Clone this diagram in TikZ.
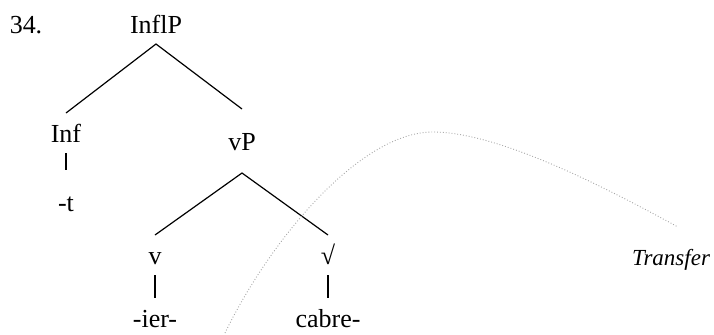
\documentclass[tikz,border=0pt]{standalone}
\usepackage{fontspec}
\setmainfont{Liberation Serif}
\begin{document}
\begin{tikzpicture}[x=0.5pt,y=-0.5pt,
  lab/.style={inner sep=0pt,outer sep=0pt,text height=9pt,text depth=0pt,
    minimum height=20pt,font=\fontsize{13}{15}\selectfont},
  tall/.style={lab,minimum height=32pt},
  branch/.style={line width=0.6pt,black},
  transfer/.style={densely dotted,gray!70,line width=0.45pt}]
\useasboundingbox (0,0) rectangle (714,334);
\node[lab] (num) at (26,24) {34.};
\node[lab] (infl) at (156,24) {InflP};
\node[lab] (inf) at (66,133) {Inf};
\node[tall] (vp) at (242,141) {vP};
\node[tall] (t) at (66,202) {-t};
\node[lab] (v) at (155,255) {v};
\node[lab] (root) at (328,255) {√};
\node[lab] (ier) at (155,318) {-ier-};
\node[lab] (cabre) at (328,318) {cabre-};
\node[lab,font=\fontsize{11.5}{14}\selectfont\itshape] (tr) at (671,256) {Transfer};
\draw[branch] (inf.north) -- (infl.south) -- (vp.north);
\draw[branch] (inf.south) -- (t.north);
\draw[branch] (v.north) -- (vp.south) -- (root.north);
\draw[branch] (v.south) -- (ier.north);
\draw[branch] (root.south) -- (cabre.north);
\coordinate (cs) at (225,333);
\coordinate (cp) at (433,132);
\coordinate (ce) at (678,227);
\draw[transfer] (cs) .. controls (270,240) and (360,132) .. (cp)
  .. controls (500,132) and (610,190) .. (ce);
\end{tikzpicture}
\end{document}
